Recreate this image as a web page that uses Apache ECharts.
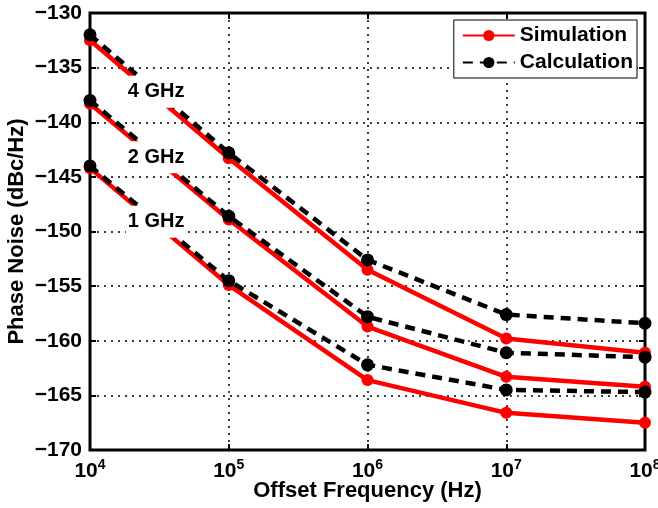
<!DOCTYPE html>
<html><head><meta charset="utf-8">
<script src="https://cdn.jsdelivr.net/npm/echarts@6/dist/echarts.min.js"></script>
<style>html,body{margin:0;padding:0;background:#fff}#c{width:658px;height:508px}</style>
</head><body><div id="c"></div>
<script>
var freq = [1e4, 1e5, 1e6, 1e7, 1e8];
var sim4 = [-132.5, -143.3, -153.5, -159.8, -161.1];
var calc4 = [-132.0, -142.8, -152.6, -157.6, -158.4];
var sim2 = [-138.3, -148.9, -158.7, -163.3, -164.2];
var calc2 = [-138.0, -148.6, -157.8, -161.1, -161.5];
var sim1 = [-144.2, -154.9, -163.6, -166.6, -167.5];
var calc1 = [-144.0, -154.5, -162.2, -164.5, -164.7];
var bandLabels = ['4 GHz', '2 GHz', '1 GHz'];
var bandLabelX = [3.0e4, 3.0e4, 3.0e4];
var bandLabelY = [-137.2, -143.2, -149.1];

function pairs(ys) { return freq.map(function (f, i) { return [f, ys[i]]; }); }
var FONT = 'Liberation Sans, Arial, sans-serif';

function simSeries(ys) {
  return { name: 'Simulation', type: 'line', data: pairs(ys), clip: false, z: 3,
    symbol: 'circle', symbolSize: 12, lineStyle: { color: '#ff0000', width: 4.5 },
    itemStyle: { color: '#ff0000' } };
}
function calcSeries(ys) {
  return { name: 'Calculation', type: 'line', data: pairs(ys), clip: false, z: 4,
    symbol: 'circle', symbolSize: 13, lineStyle: { color: '#000', width: 4.5, type: [10, 7] },
    itemStyle: { color: '#000' } };
}

var chart = echarts.init(document.getElementById('c'));
var xAxisBase = {
  type: 'log', logBase: 10, min: 1e4, max: 1e8,
  axisLine: { show: false },
  axisTick: { show: true, inside: true, length: 6, lineStyle: { color: '#000', width: 2 } },
  splitLine: { show: false }
};
chart.setOption({
  animation: false,
  grid: { left: 90, right: 13, top: 13, bottom: 58, outerBoundsMode: 'none', containLabel: false,
    show: true, borderColor: '#000', borderWidth: 3, backgroundColor: 'transparent' },
  legend: {
    right: 21, top: 20, orient: 'vertical', itemGap: 6, itemWidth: 52, itemHeight: 14,
    padding: [5, 4, 5, 8], borderColor: '#000', borderWidth: 1, backgroundColor: '#fff',
    textStyle: { fontFamily: FONT, fontWeight: 'bold', fontSize: 21, color: '#000' },
    data: ['Simulation', 'Calculation']
  },
  xAxis: [
    Object.assign({}, xAxisBase, {
      position: 'bottom',
      name: 'Offset Frequency (Hz)', nameLocation: 'middle', nameGap: 30, nameMoveOverlap: false,
      nameTextStyle: { fontFamily: FONT, fontWeight: 'bold', fontSize: 22, color: '#000' },
      splitLine: { show: true, lineStyle: { color: '#000', width: 1.5, type: [2, 5] } },
      axisLabel: {
        margin: 8, color: '#000',
        formatter: function (v) { var e = Math.round(Math.log10(v)); return '{b|10}{s|' + e + '}'; },
        rich: {
          b: { fontFamily: FONT, fontWeight: 'bold', fontSize: 21, color: '#000', verticalAlign: 'bottom' },
          s: { fontFamily: FONT, fontWeight: 'bold', fontSize: 14, color: '#000', verticalAlign: 'top', padding: [0, 0, 10, 0] }
        }
      }
    }),
    Object.assign({}, xAxisBase, { position: 'top', axisLabel: { show: false } })
  ],
  yAxis: [
    {
      type: 'value', min: -170, max: -130, interval: 5, position: 'left',
      name: 'Phase Noise (dBc/Hz)', nameLocation: 'middle', nameGap: 62, nameMoveOverlap: false,
      nameTextStyle: { fontFamily: FONT, fontWeight: 'bold', fontSize: 22, color: '#000' },
      axisLine: { show: false },
      axisTick: { show: true, inside: true, length: 6, lineStyle: { color: '#000', width: 2 } },
      splitLine: { show: true, lineStyle: { color: '#000', width: 1.5, type: [2, 5] } },
      axisLabel: { margin: 8, fontFamily: FONT, fontWeight: 'bold', fontSize: 21, color: '#000',
        formatter: function (v) { return String(v).replace('-', '\u2212'); } }
    },
    {
      type: 'value', min: -170, max: -130, interval: 5, position: 'right',
      axisLine: { show: false }, axisLabel: { show: false }, splitLine: { show: false },
      axisTick: { show: true, inside: true, length: 6, lineStyle: { color: '#000', width: 2 } }
    }
  ],
  series: [
    simSeries(sim4), calcSeries(calc4),
    simSeries(sim2), calcSeries(calc2),
    simSeries(sim1), calcSeries(calc1),
    {
      type: 'custom', z: 20, silent: true, clip: false,
      data: bandLabels.map(function (t, i) { return [bandLabelX[i], bandLabelY[i]]; }),
      renderItem: function (params, api) {
        var p = api.coord([api.value(0), api.value(1)]);
        return {
          type: 'text', x: p[0], y: p[1], z2: 100,
          style: {
            text: bandLabels[params.dataIndex], fill: '#000',
            font: 'bold 20px ' + FONT, align: 'center', verticalAlign: 'middle',
            backgroundColor: '#fff', padding: [6, 2]
          }
        };
      }
    }
  ]
});
</script></body></html>
